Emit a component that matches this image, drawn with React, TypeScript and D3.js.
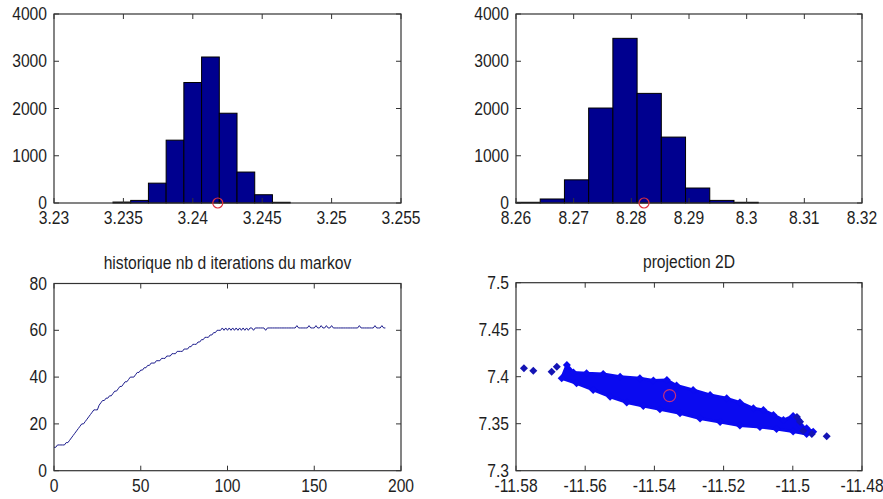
import React from "react";
import * as d3 from "d3";

// ---- Histogram 1 (parameter around 3.24) ----
const hist1Start = 3.23425;
const hist1Width = 0.0012765;
const hist1Counts = [20, 55, 420, 1330, 2550, 3090, 1900, 655, 175, 15];
const hist1Ticks = [3.23, 3.235, 3.24, 3.245, 3.25, 3.255];
const hist1Ref = 3.2418;

// ---- Histogram 2 (parameter around 8.28) ----
const hist2Start = 8.26;
const hist2Width = 0.0042;
const hist2Counts = [15, 85, 490, 2010, 3485, 2320, 1395, 317, 55, 15];
const hist2Ticks = [8.26, 8.27, 8.28, 8.29, 8.3, 8.31, 8.32];
const hist2Ref = 8.2822;

const countTicks = [0, 1000, 2000, 3000, 4000];

// ---- Markov iteration history ----
const iterations = [
  10, 10, 11, 11, 11, 11, 11, 12, 12, 13,
  14, 15, 16, 17, 18, 19, 20, 20, 21, 22,
  23, 24, 25, 26, 26, 26, 28, 29, 30, 30,
  31, 31, 32, 32, 33, 34, 34, 35, 36, 36,
  37, 38, 38, 39, 40, 40, 40, 41, 42, 42,
  43, 43, 44, 44, 45, 45, 46, 46, 46, 47,
  47, 47, 48, 48, 48, 49, 49, 49, 50, 50,
  50, 51, 51, 51, 51, 52, 52, 52, 53, 53,
  54, 54, 54, 55, 55, 56, 56, 57, 57, 57,
  58, 58, 59, 59, 60, 60, 60, 61, 60, 61,
  60, 61, 60, 61, 60, 61, 60, 61, 60, 61,
  60, 61, 60, 61, 61, 60, 61, 61, 61, 61,
  61, 61, 60, 61, 61, 61, 61, 61, 61, 61,
  61, 61, 61, 61, 61, 61, 61, 61, 61, 61,
  62, 61, 61, 61, 61, 61, 61, 62, 61, 61,
  61, 62, 61, 61, 62, 61, 61, 62, 61, 61,
  62, 61, 61, 61, 61, 61, 61, 61, 61, 61,
  61, 61, 61, 61, 61, 61, 62, 61, 61, 61,
  61, 61, 61, 61, 61, 62, 61, 61, 61, 62,
  61, 61,
];
const iterXTicks = [0, 50, 100, 150, 200];
const iterYTicks = [0, 20, 40, 60, 80];

// ---- 2D projection: outline of the dense sample cloud (x, y) ----
const cloudX = [
  -11.5668, -11.5653, -11.5634, -11.5596, -11.5548, -11.5499, -11.5442, -11.5403,
  -11.5364, -11.5336, -11.5288, -11.5239, -11.5191, -11.5153, -11.5114, -11.5085,
  -11.5056, -11.5027, -11.4999, -11.4984, -11.4979, -11.496, -11.4941,
  -11.496, -11.4999, -11.5047, -11.5095, -11.5153, -11.521, -11.5268, -11.5326,
  -11.5384, -11.5432, -11.548, -11.5528, -11.5577, -11.5625,
];
const cloudY = [
  7.3983, 7.4124, 7.4045, 7.4036, 7.4029, 7.4, 7.3983, 7.396,
  7.3965, 7.3906, 7.3859, 7.3805, 7.377, 7.3726, 7.3664, 7.3646,
  7.3593, 7.3539, 7.3582, 7.3539, 7.3486, 7.3451, 7.3415,
  7.339, 7.3417, 7.3444, 7.3465, 7.3481, 7.3518, 7.3555, 7.3611,
  7.3653, 7.3688, 7.3726, 7.3787, 7.3859, 7.393,
];
// isolated samples outside the cloud
const strayX = [-11.5777, -11.575, -11.5697, -11.5682, -11.4988, -11.4979, -11.497, -11.4945, -11.4902];
const strayY = [7.4089, 7.4064, 7.4053, 7.4106, 7.3571, 7.3521, 7.3426, 7.339, 7.3367];
const projRefX = -11.5356;
const projRefY = 7.3798;
const projXTicks = [-11.58, -11.56, -11.54, -11.52, -11.5, -11.48];
const projYTicks = [7.3, 7.35, 7.4, 7.45, 7.5];

const FONT = "'Liberation Sans', Arial, Helvetica, sans-serif";
const FS = 17;
const AXIS = "#333";
const TXT = "#1e1e1e";
const TICK = 5;

type Box = { l: number; r: number; t: number; b: number };

// Slightly narrowed text, like the condensed screen font of the plots
function Label({
  x,
  y,
  anchor,
  children,
}: {
  x: number;
  y: number;
  anchor: "start" | "middle" | "end";
  children: React.ReactNode;
}) {
  return (
    <text
      transform={`translate(${x},${y}) scale(0.92,1.04)`}
      textAnchor={anchor}
      fontFamily={FONT}
      fontSize={FS}
      fill={TXT}
    >
      {children}
    </text>
  );
}

function Frame({
  box,
  x,
  y,
  xTicks,
  yTicks,
  xFmt,
  yFmt,
  title,
}: {
  box: Box;
  x: d3.ScaleLinear<number, number>;
  y: d3.ScaleLinear<number, number>;
  xTicks: number[];
  yTicks: number[];
  xFmt: (v: number) => string;
  yFmt: (v: number) => string;
  title?: string;
}) {
  return (
    <g>
      <rect
        x={box.l}
        y={box.t}
        width={box.r - box.l}
        height={box.b - box.t}
        fill="none"
        stroke={AXIS}
        strokeWidth={1.2}
      />
      {xTicks.map((v) => (
        <g key={"x" + v}>
          <line x1={x(v)} x2={x(v)} y1={box.b} y2={box.b - TICK} stroke={AXIS} />
          <line x1={x(v)} x2={x(v)} y1={box.t} y2={box.t + TICK} stroke={AXIS} />
          <Label x={x(v)} y={box.b + 21} anchor="middle">
            {xFmt(v)}
          </Label>
        </g>
      ))}
      {yTicks.map((v) => (
        <g key={"y" + v}>
          <line x1={box.l} x2={box.l + TICK} y1={y(v)} y2={y(v)} stroke={AXIS} />
          <line x1={box.r} x2={box.r - TICK} y1={y(v)} y2={y(v)} stroke={AXIS} />
          <Label x={box.l - 7} y={y(v) + 6} anchor="end">
            {yFmt(v)}
          </Label>
        </g>
      ))}
      {title && (
        <Label x={(box.l + box.r) / 2} y={box.t - 15} anchor="middle">
          {title}
        </Label>
      )}
    </g>
  );
}

function Histogram({
  box,
  start,
  width,
  counts,
  ticks,
  refValue,
}: {
  box: Box;
  start: number;
  width: number;
  counts: number[];
  ticks: number[];
  refValue: number;
}) {
  const x = d3.scaleLinear().domain([ticks[0], ticks[ticks.length - 1]]).range([box.l, box.r]);
  const y = d3.scaleLinear().domain([0, 4000]).range([box.b, box.t]);
  const fmt = (v: number) => String(+v.toFixed(4));
  return (
    <g>
      {counts.map((c, i) => {
        const x0 = x(start + i * width);
        const x1 = x(start + (i + 1) * width);
        return (
          <rect
            key={i}
            x={x0}
            y={y(c)}
            width={x1 - x0}
            height={y(0) - y(c)}
            fill="#00008f"
            stroke="#000"
            strokeWidth={1}
          />
        );
      })}
      <Frame box={box} x={x} y={y} xTicks={ticks} yTicks={countTicks} xFmt={fmt} yFmt={(v) => String(v)} />
      <circle cx={x(refValue)} cy={y(0)} r={5} fill="none" stroke="#e0303c" strokeWidth={1.2} />
    </g>
  );
}

function IterationHistory({ box }: { box: Box }) {
  const x = d3.scaleLinear().domain([0, 200]).range([box.l, box.r]);
  const y = d3.scaleLinear().domain([0, 80]).range([box.b, box.t]);
  const line = d3
    .line<number>()
    .x((_, i) => x(i))
    .y((d) => y(d));
  return (
    <g>
      <path d={line(iterations) || ""} fill="none" stroke="#1c1c8c" strokeWidth={1} />
      <Frame
        box={box}
        x={x}
        y={y}
        xTicks={iterXTicks}
        yTicks={iterYTicks}
        xFmt={(v) => String(v)}
        yFmt={(v) => String(v)}
        title="historique nb d iterations du markov"
      />
    </g>
  );
}

function diamond(cx: number, cy: number, r: number) {
  return `M${cx},${cy - r}L${cx + r},${cy}L${cx},${cy + r}L${cx - r},${cy}Z`;
}

function Projection({ box }: { box: Box }) {
  const x = d3.scaleLinear().domain([-11.58, -11.48]).range([box.l, box.r]);
  const y = d3.scaleLinear().domain([7.3, 7.5]).range([box.b, box.t]);
  const outline = cloudX.map((v, i) => [x(v), y(cloudY[i])] as [number, number]);
  const area = d3.line().curve(d3.curveLinearClosed)(outline) || "";
  return (
    <g>
      <path d={area} fill="#0a0af0" stroke="#0a0af0" strokeWidth={3} strokeLinejoin="round" />
      {outline.map(([px, py], i) => (
        <path key={"c" + i} d={diamond(px, py, 4)} fill="#0a0af0" />
      ))}
      {strayX.map((v, i) => (
        <path key={"s" + i} d={diamond(x(v), y(strayY[i]), 4)} fill="#1414b4" />
      ))}
      <circle cx={x(projRefX)} cy={y(projRefY)} r={6} fill="none" stroke="#c8307a" strokeWidth={1.2} />
      <Frame
        box={box}
        x={x}
        y={y}
        xTicks={projXTicks}
        yTicks={projYTicks}
        xFmt={(v) => String(+v.toFixed(2))}
        yFmt={(v) => String(+v.toFixed(2))}
        title="projection 2D"
      />
    </g>
  );
}

export default function App() {
  return (
    <svg
      width={883}
      height={499}
      style={{ position: "absolute", left: 0, top: 0, background: "#fff" }}
    >
      <rect width={883} height={499} fill="#fff" />
      <Histogram
        box={{ l: 54, r: 401, t: 14, b: 203 }}
        start={hist1Start}
        width={hist1Width}
        counts={hist1Counts}
        ticks={hist1Ticks}
        refValue={hist1Ref}
      />
      <Histogram
        box={{ l: 516, r: 862, t: 14, b: 203 }}
        start={hist2Start}
        width={hist2Width}
        counts={hist2Counts}
        ticks={hist2Ticks}
        refValue={hist2Ref}
      />
      <IterationHistory box={{ l: 54, r: 401, t: 283.5, b: 470.7 }} />
      <Projection box={{ l: 516, r: 862, t: 282.7, b: 470.7 }} />
    </svg>
  );
}
